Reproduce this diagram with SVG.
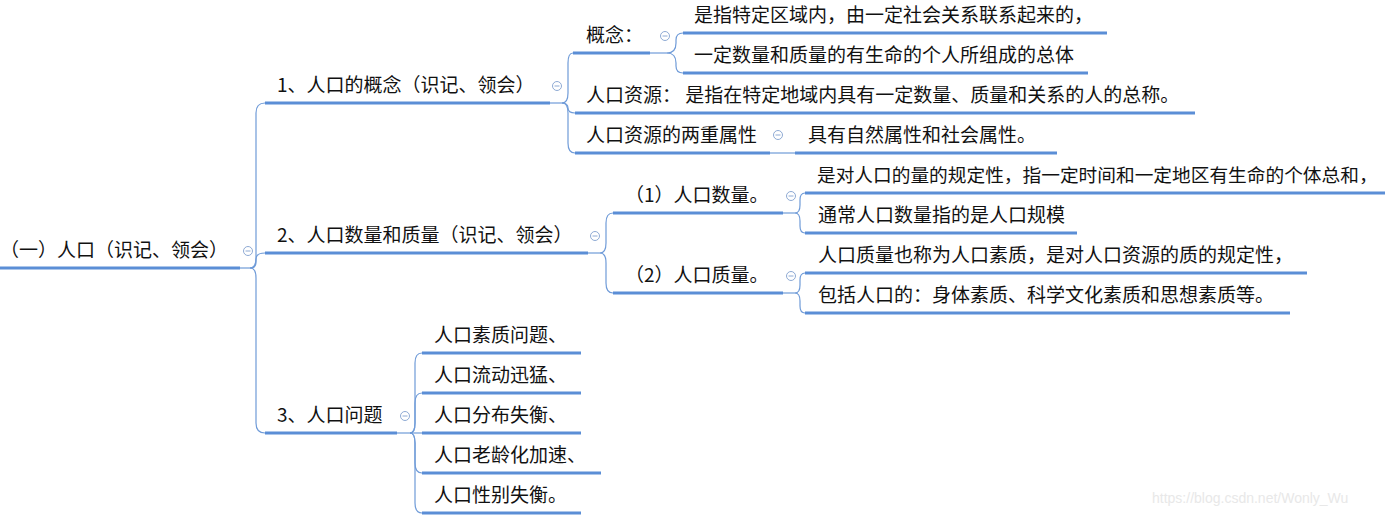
<svg xmlns="http://www.w3.org/2000/svg" width="1385" height="517" viewBox="0 0 1385 517">
<style>
text{font-family:"Noto Sans CJK SC","Microsoft YaHei",sans-serif;font-size:19px;fill:#111}
.u{stroke:#5b8ed6;stroke-width:3;fill:none}
.c{stroke:#6f9bd8;stroke-width:1.2;fill:none}
.k{fill:#fff;stroke:#8eaad4;stroke-width:1}
.km{stroke:#8eaad4;stroke-width:1}
.wm{font-family:"Liberation Sans",Arial,sans-serif;font-size:14px;fill:#e8e8e8}
</style>
<rect width="1385" height="517" fill="#fff"/>
<g id="connectors">
<path class="c" d="M240 268H250"/>
<path class="c" d="M250 268Q256 268 256 258L256 113Q256 103 265 103"/>
<path class="c" d="M250 268Q256 268 256 262L256 259Q256 253 265 253"/>
<path class="c" d="M250 268Q256 268 256 278L256 423Q256 433 265 433"/>
<path class="c" d="M550 103H562"/>
<path class="c" d="M562 103Q568 103 568 93L568 63Q568 53 573 53"/>
<path class="c" d="M562 103Q568 103 568 108Q568 113 575 113"/>
<path class="c" d="M562 103Q568 103 568 113L568 143Q568 153 575 153"/>
<path class="c" d="M650 53H667"/>
<path class="c" d="M667 53Q676 53 676 43L676 40Q676 33 683 33"/>
<path class="c" d="M667 53Q676 53 676 63L676 66Q676 73 683 73"/>
<path class="c" d="M770 153H795"/>
<path class="c" d="M588 253H600"/>
<path class="c" d="M600 253Q606 253 606 243L606 223Q606 213 613 213"/>
<path class="c" d="M600 253Q606 253 606 263L606 283Q606 293 613 293"/>
<path class="c" d="M783 213H795"/>
<path class="c" d="M795 213Q800 213 800 205L800 200Q800 193 805 193"/>
<path class="c" d="M795 213Q800 213 800 221L800 226Q800 233 805 233"/>
<path class="c" d="M783 293H795"/>
<path class="c" d="M795 293Q800 293 800 285L800 280Q800 273 805 273"/>
<path class="c" d="M795 293Q800 293 800 301L800 306Q800 313 805 313"/>
<path class="c" d="M397 433H410"/>
<path class="c" d="M410 433Q415 433 415 423L415 363Q415 353 422 353"/>
<path class="c" d="M410 433Q415 433 415 423L415 403Q415 393 422 393"/>
<path class="c" d="M410 433H422"/>
<path class="c" d="M410 433Q415 433 415 443L415 463Q415 473 422 473"/>
<path class="c" d="M410 433Q415 433 415 443L415 503Q415 513 422 513"/>
</g>
<g id="root">
<line class="u" x1="0" y1="268" x2="240" y2="268"/>
<text x="0" y="257">（一）人口（识记、领会）</text>
<circle class="k" cx="248" cy="251" r="4.5"/><line class="km" x1="245.5" y1="251" x2="250.5" y2="251"/>
</g>
<g id="n1">
<line class="u" x1="265" y1="103" x2="550" y2="103"/>
<text x="277" y="92">1、人口的概念（识记、领会）</text>
<circle class="k" cx="557" cy="86" r="4.5"/><line class="km" x1="554.5" y1="86" x2="559.5" y2="86"/>
</g>
<g id="n1a">
<line class="u" x1="573" y1="53" x2="650" y2="53"/>
<text x="586" y="42">概念：</text>
<circle class="k" cx="665" cy="36" r="4.5"/><line class="km" x1="662.5" y1="36" x2="667.5" y2="36"/>
</g>
<g id="n1a1">
<line class="u" x1="683" y1="33" x2="1107" y2="33"/>
<text x="694" y="22">是指特定区域内，由一定社会关系联系起来的，</text>
</g>
<g id="n1a2">
<line class="u" x1="683" y1="73" x2="1088" y2="73"/>
<text x="694" y="62">一定数量和质量的有生命的个人所组成的总体</text>
</g>
<g id="n1b">
<line class="u" x1="575" y1="113" x2="1195" y2="113"/>
<text x="586" y="102">人口资源： 是指在特定地域内具有一定数量、质量和关系的人的总称。</text>
</g>
<g id="n1c">
<line class="u" x1="575" y1="153" x2="770" y2="153"/>
<text x="586" y="142">人口资源的两重属性</text>
<circle class="k" cx="778" cy="135" r="4.5"/><line class="km" x1="775.5" y1="135" x2="780.5" y2="135"/>
</g>
<g id="n1c1">
<line class="u" x1="795" y1="153" x2="1057" y2="153"/>
<text x="808" y="142">具有自然属性和社会属性。</text>
</g>
<g id="n2">
<line class="u" x1="265" y1="253" x2="588" y2="253"/>
<text x="277" y="242">2、人口数量和质量（识记、领会）</text>
<circle class="k" cx="595" cy="236" r="4.5"/><line class="km" x1="592.5" y1="236" x2="597.5" y2="236"/>
</g>
<g id="n2a">
<line class="u" x1="613" y1="213" x2="783" y2="213"/>
<text x="625" y="202">（1）人口数量。</text>
<circle class="k" cx="791" cy="196" r="4.5"/><line class="km" x1="788.5" y1="196" x2="793.5" y2="196"/>
</g>
<g id="n2a1">
<line class="u" x1="805" y1="193" x2="1385" y2="193"/>
<text x="817" y="182" style="font-size:18.7px">是对人口的量的规定性，指一定时间和一定地区有生命的个体总和，</text>
</g>
<g id="n2a2">
<line class="u" x1="805" y1="233" x2="1077" y2="233"/>
<text x="818" y="222">通常人口数量指的是人口规模</text>
</g>
<g id="n2b">
<line class="u" x1="613" y1="293" x2="783" y2="293"/>
<text x="625" y="282">（2）人口质量。</text>
<circle class="k" cx="791" cy="276" r="4.5"/><line class="km" x1="788.5" y1="276" x2="793.5" y2="276"/>
</g>
<g id="n2b1">
<line class="u" x1="805" y1="273" x2="1307" y2="273"/>
<text x="818" y="262">人口质量也称为人口素质，是对人口资源的质的规定性，</text>
</g>
<g id="n2b2">
<line class="u" x1="805" y1="313" x2="1290" y2="313"/>
<text x="818" y="302">包括人口的：身体素质、科学文化素质和思想素质等。</text>
</g>
<g id="n3">
<line class="u" x1="265" y1="433" x2="397" y2="433"/>
<text x="277" y="422">3、人口问题</text>
<circle class="k" cx="405" cy="416" r="4.5"/><line class="km" x1="402.5" y1="416" x2="407.5" y2="416"/>
</g>
<g id="n3a"><line class="u" x1="422" y1="353" x2="581" y2="353"/><text x="434" y="342">人口素质问题、</text></g>
<g id="n3b"><line class="u" x1="422" y1="393" x2="581" y2="393"/><text x="434" y="382">人口流动迅猛、</text></g>
<g id="n3c"><line class="u" x1="422" y1="433" x2="581" y2="433"/><text x="434" y="422">人口分布失衡、</text></g>
<g id="n3d"><line class="u" x1="422" y1="473" x2="601" y2="473"/><text x="434" y="462">人口老龄化加速、</text></g>
<g id="n3e"><line class="u" x1="422" y1="513" x2="581" y2="513"/><text x="434" y="502">人口性别失衡。</text></g>
<text class="wm" x="1152" y="503">https://blog.csdn.net/Wonly_Wu</text>
</svg>
